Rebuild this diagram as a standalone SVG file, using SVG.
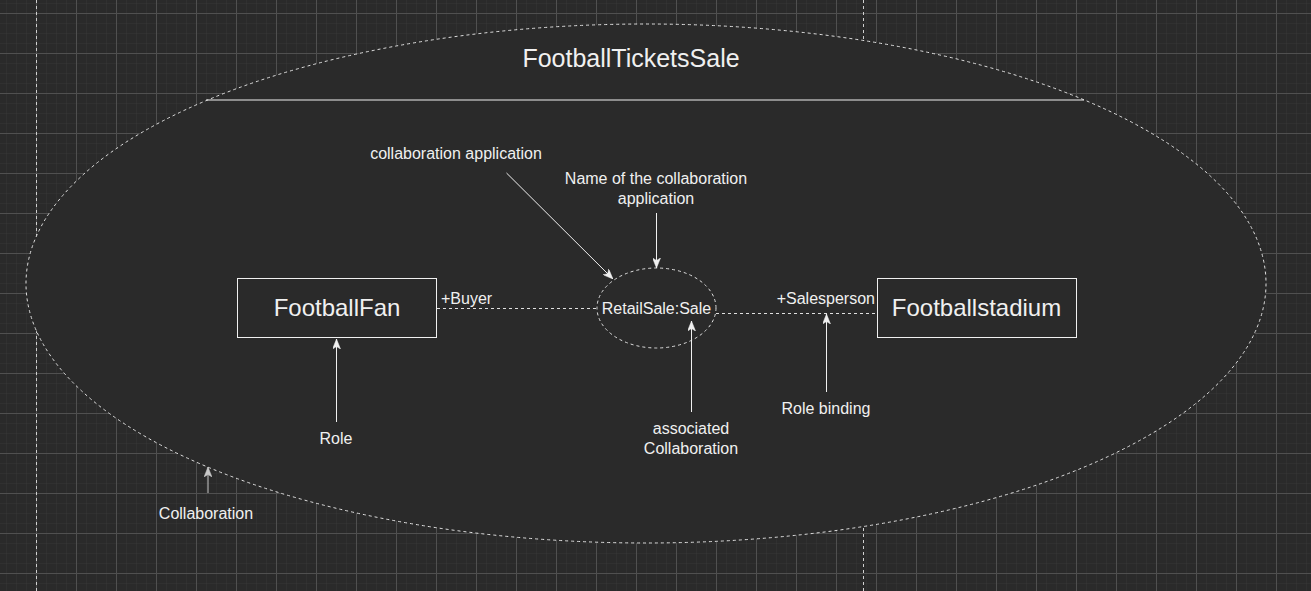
<svg xmlns="http://www.w3.org/2000/svg" width="1311" height="591" viewBox="0 0 1311 591">
  <defs>
    <pattern id="minor" width="10" height="10" patternUnits="userSpaceOnUse" x="6" y="3">
      <path d="M0 0 H10 M0 0 V10" fill="none" stroke="#363636" stroke-width="1"/>
    </pattern>
    <pattern id="major" width="40" height="40" patternUnits="userSpaceOnUse" x="36" y="13">
      <path d="M0 0.5 H40 M0.5 0 V40" fill="none" stroke="#505050" stroke-width="1"/>
    </pattern>
    <marker id="arr" viewBox="0 0 10 8" refX="10" refY="4" markerWidth="10" markerHeight="8" markerUnits="userSpaceOnUse" orient="auto">
      <path d="M0 0 L10 4 L0 8 L2.5 4 Z" fill="#f0f0f0" stroke="#f0f0f0" stroke-width="0.5"/>
    </marker>
    <marker id="arrg" viewBox="0 0 10 8" refX="10" refY="4" markerWidth="10" markerHeight="8" markerUnits="userSpaceOnUse" orient="auto">
      <path d="M0 0 L10 4 L0 8 L2.5 4 Z" fill="#c8c8c8" stroke="#c8c8c8" stroke-width="0.5"/>
    </marker>
    <style>
      .t { font-family: "Liberation Sans", Arial, sans-serif; fill: #f0f0f0; text-anchor: middle; }
      .lbl { font-size: 16px; }
      .big { font-size: 24px; }
      .title { font-size: 25px; }
      .dash { fill: none; stroke: #e0e0e0; stroke-width: 1; stroke-dasharray: 3 3; }
      .box { fill: #2a2a2a; stroke: #f0f0f0; stroke-width: 1; }
      .ln { fill: none; stroke: #f0f0f0; stroke-width: 1; }
    </style>
  </defs>
  <rect width="1311" height="591" fill="#2a2a2a"/>
  <rect width="1311" height="591" fill="url(#minor)"/>
  <rect width="1311" height="591" fill="url(#major)"/>
  <line x1="36.5" y1="0" x2="36.5" y2="591" stroke="#d0d0d0" stroke-dasharray="3 3"/>
  <line x1="863.5" y1="0" x2="863.5" y2="591" stroke="#d0d0d0" stroke-dasharray="3 3"/>

  <g id="collaboration">
    <ellipse cx="646" cy="283.5" rx="620" ry="259.5" class="dash" style="fill:#2a2a2a"/>
    <line x1="206" y1="100" x2="1084" y2="100" class="ln"/>
    <text class="t title" x="631" y="67">FootballTicketsSale</text>
  </g>

  <g id="footballfan">
    <rect x="237.5" y="278.5" width="199" height="59" class="box"/>
    <text class="t big" x="337" y="316">FootballFan</text>
  </g>
  <g id="footballstadium">
    <rect x="877.5" y="278.5" width="199" height="59" class="box"/>
    <text class="t big" x="976.5" y="316">Footballstadium</text>
  </g>
  <g id="retailsale">
    <ellipse cx="656.5" cy="308" rx="59.5" ry="40" class="dash" style="fill:#2a2a2a"/>
    <text class="t lbl" x="656.5" y="314">RetailSale:Sale</text>
  </g>

  <g id="connectors">
    <line x1="437" y1="308.5" x2="597" y2="308.5" class="dash"/>
    <line x1="716" y1="313.5" x2="877" y2="313.5" class="dash"/>
    <line x1="506.5" y1="173" x2="613" y2="279" class="ln" marker-end="url(#arr)"/>
    <line x1="656.5" y1="213" x2="656.5" y2="268" class="ln" marker-end="url(#arr)"/>
    <line x1="691.5" y1="412" x2="691.5" y2="321" class="ln" marker-end="url(#arr)"/>
    <line x1="826.5" y1="392" x2="826.5" y2="314" class="ln" marker-end="url(#arr)"/>
    <line x1="336.5" y1="422" x2="336.5" y2="339" class="ln" marker-end="url(#arr)"/>
    <line x1="208" y1="493" x2="208" y2="467" stroke="#c8c8c8" stroke-width="1" marker-end="url(#arrg)"/>
  </g>

  <g id="labels">
    <text class="t lbl" x="441" y="304" style="text-anchor:start">+Buyer</text>
    <text class="t lbl" x="875" y="304" style="text-anchor:end">+Salesperson</text>
    <text class="t lbl" x="456" y="159">collaboration application</text>
    <text class="t lbl" x="656" y="184">Name of the collaboration</text>
    <text class="t lbl" x="656" y="204">application</text>
    <text class="t lbl" x="691" y="434">associated</text>
    <text class="t lbl" x="691" y="454">Collaboration</text>
    <text class="t lbl" x="826" y="414">Role binding</text>
    <text class="t lbl" x="336" y="444">Role</text>
    <text class="t lbl" x="206" y="519">Collaboration</text>
  </g>
</svg>
